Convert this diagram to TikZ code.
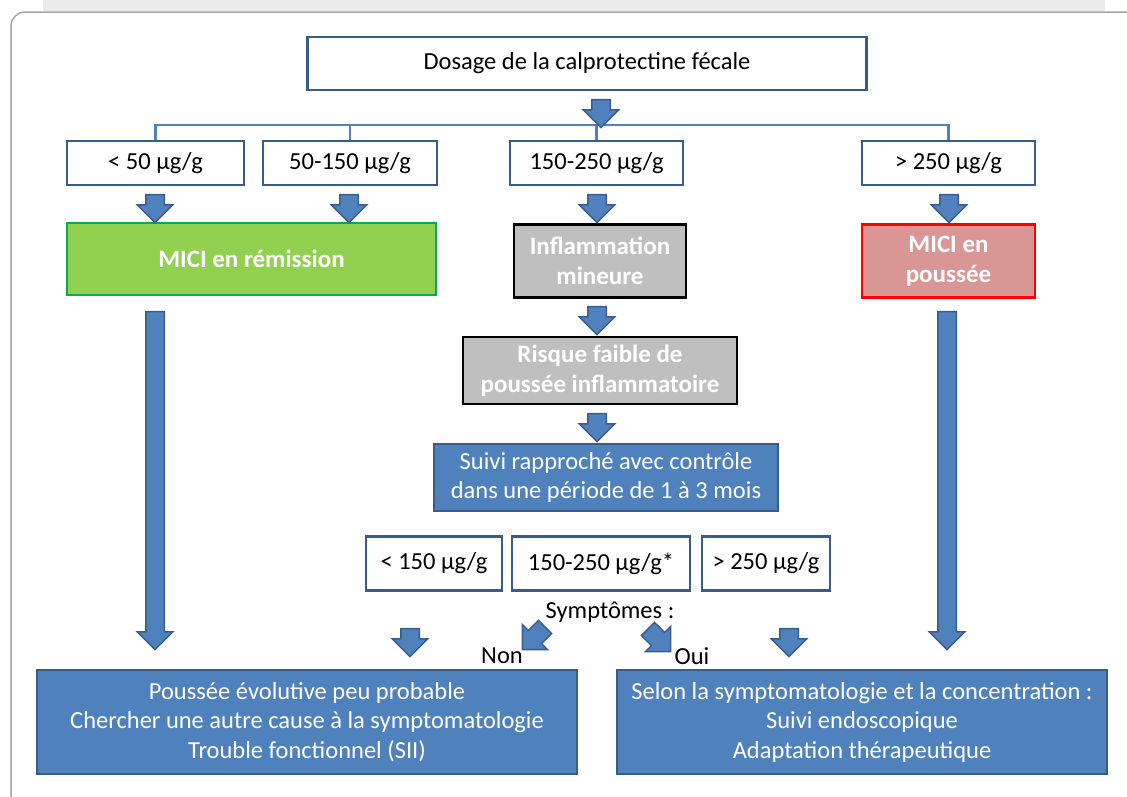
\documentclass[tikz,border=0pt]{standalone}
\usepackage{fontspec}
\setmainfont{Carlito}
\usepackage{tikz}
\usetikzlibrary{shapes.arrows, positioning, calc}
\definecolor{bfill}{HTML}{4F81BD}
\definecolor{bline}{HTML}{385D8A}
\definecolor{gfill}{HTML}{92D050}
\definecolor{gline}{HTML}{00B050}
\definecolor{rfill}{HTML}{D99694}
\definecolor{grayfill}{HTML}{BFBFBF}
\definecolor{frameg}{HTML}{A6A6A6}
\definecolor{stripg}{HTML}{EBEBEB}

\begin{document}
\begin{tikzpicture}[x=1pt, y=-1pt,
    font=\fontsize{24.5}{29.5}\selectfont,
    block/.style={rectangle, draw=bline, line width=2.5pt, fill=white, align=center, inner sep=0pt},
    status/.style={rectangle, line width=2.5pt, align=center, inner sep=0pt, text=white, font=\fontsize{25}{30}\selectfont\bfseries},
    result/.style={rectangle, draw=bline, line width=2.5pt, fill=bfill, text=white, align=center, inner sep=0pt},
    barrow/.style={single arrow, draw=bline, fill=bfill, line width=1.5pt, inner sep=8.5pt, single arrow head extend=8.5pt, minimum width=0pt, minimum height=28},
    busline/.style={draw=bfill, line width=2.5pt}
]
    \useasboundingbox (0,0) rectangle (1127,796);
    \fill [stripg] (43,0) rectangle (1105,11);
    \draw [frameg, line width=1.5pt, rounded corners=14] (1140,12) -- (11,12) -- (11,810);

    \node [block, minimum width=559, minimum height=53] (dose) at (587,63.5) {Dosage de la calprotectine fécale};
    \node [block, minimum width=177, minimum height=44] (lt50) at (155.5,163) {< 50 µg/g};
    \node [block, minimum width=174, minimum height=44] (m50) at (350,163) {50-150 µg/g};
    \node [block, minimum width=173, minimum height=44] (m150) at (596.5,163) {150-250 µg/g};
    \node [block, minimum width=173, minimum height=44] (gt250) at (948.5,163) {> 250 µg/g};

    \node [status, draw=gline, fill=gfill, minimum width=369, minimum height=72] (remis) at (251.5,259) {MICI en rémission};
    \node [status, draw=black, fill=grayfill, minimum width=172, minimum height=73] (infl) at (600,261) {Inflammation\\mineure};
    \node [status, draw=red, fill=rfill, minimum width=173, minimum height=73] (pouss) at (948.5,261) {MICI en\\poussée};
    \node [status, draw=black, fill=grayfill, minimum width=274, minimum height=67] (risque) at (600,370.5) {Risque faible de\\poussée inflammatoire};
    \node [result, minimum width=344, minimum height=67] (suivi) at (606,477.5) {Suivi rapproché avec contrôle\\dans une période de 1 à 3 mois};

    \node [block, minimum width=136, minimum height=54] (lt150) at (434,563.5) {< 150 µg/g};
    \node [block, minimum width=178, minimum height=54] (mid) at (601,563.5) {150-250 µg/g*};
    \node [block, minimum width=128, minimum height=54] (gt250b) at (766,563.5) {> 250 µg/g};

    \node (sym) at (610,612) {Symptômes :};
    \node (non) at (502,656) {Non};
    \node (oui) at (692,656) {Oui};

    \node [result, minimum width=540, minimum height=104] (left) at (307,722) {Poussée évolutive peu probable\\Chercher une autre cause à la symptomatologie\\Trouble fonctionnel (SII)};
    \node [result, minimum width=490, minimum height=104] (right) at (862,722) {Selon la symptomatologie et la concentration :\\Suivi endoscopique\\Adaptation thérapeutique};

    \coordinate (bus) at (601,125);
    \path [busline] (lt50.north) |- (bus) -| (gt250.north);
    \path [busline] (m50.north) -- (m50.north |- bus);
    \path [busline] (m150.north) -- (m150.north |- bus);

    \node [barrow, rotate=-90] (a0) at (601,109) {};
    \node [barrow, rotate=-90] (a1) at (155,204) {};
    \node [barrow, rotate=-90] (a2) at (349,204) {};
    \node [barrow, rotate=-90] (a3) at (597,204) {};
    \node [barrow, rotate=-90] (a4) at (949,204) {};
    \node [barrow, rotate=-90] (a5) at (597,316) {};
    \node [barrow, rotate=-90] (a6) at (597,423) {};
    \node [barrow, rotate=-90, minimum height=338] (a7) at (155,476) {};
    \node [barrow, rotate=-90, minimum height=338] (a8) at (947,476) {};
    \node [barrow, rotate=-90] (a9) at (410,638) {};
    \node [barrow, rotate=-90] (a10) at (789,638) {};
    \node [barrow, rotate=-135, minimum height=32] (a11) at (537,635) {};
    \node [barrow, rotate=-45, minimum height=32] (a12) at (656,637) {};
\end{tikzpicture}
\end{document}
